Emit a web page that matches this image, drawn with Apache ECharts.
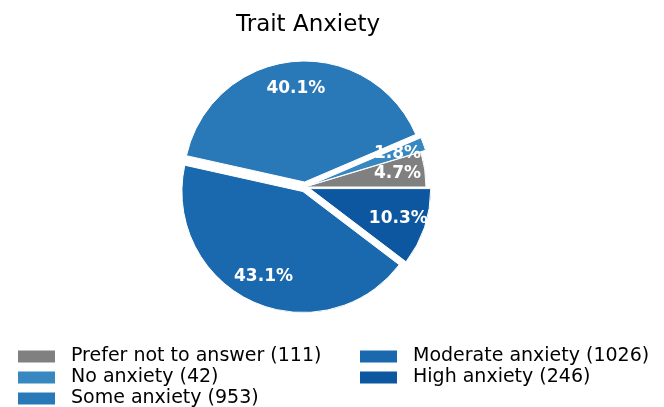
<!DOCTYPE html>
<html>
<head>
<meta charset="utf-8">
<script src="https://cdn.jsdelivr.net/npm/echarts@6/dist/echarts.min.js"></script>
<style>
  html, body { margin: 0; padding: 0; background: #fff; }
  #chart { width: 664px; height: 407px; }
</style>
</head>
<body>
<div id="chart"></div>
<script>
// pie data
const categories = ["Prefer not to answer", "No anxiety", "Some anxiety", "Moderate anxiety", "High anxiety"];
const counts = [111, 42, 953, 1026, 246];
const colors = ["#808080", "#3787c0", "#2978b8", "#1a69ae", "#0d57a1"];
const exploded = [false, true, true, true, true];

const total = counts.reduce((a, b) => a + b, 0);
const names = categories.map((c, i) => c + " (" + counts[i] + ")");

const chart = echarts.init(document.getElementById("chart"));
const font = "DejaVu Sans";

const legendBase = {
  orient: "vertical",
  top: 347,
  height: 80,
  padding: 0,
  itemWidth: 39,
  itemHeight: 14,
  itemGap: 2,
  icon: "rect",
  selectedMode: false,
  textStyle: { fontFamily: font, fontSize: 19, lineHeight: 19, color: "#000", padding: [0, 0, 0, 10] }
};

const pieBase = {
  type: "pie",
  center: [305, 187],
  startAngle: 0,
  clockwise: false,
  selectedMode: "multiple",
  selectedOffset: 5,
  silent: true,
  emphasis: { disabled: true },
  labelLine: { show: false }
};

chart.setOption({
  animation: false,
  title: {
    text: "Trait Anxiety",
    left: 231,
    top: 9,
    textStyle: { fontFamily: font, fontSize: 23, fontWeight: "normal", color: "#000" }
  },
  legend: [
    Object.assign({ data: names.slice(0, 3), left: 16 }, legendBase),
    Object.assign({ data: names.slice(3), left: 358 }, legendBase)
  ],
  series: [
    Object.assign({}, pieBase, {
      radius: [0, 121],
      itemStyle: { borderColor: "#fff", borderWidth: 1 },
      label: { show: false },
      data: names.map((n, i) => ({
        name: n,
        value: counts[i],
        selected: exploded[i],
        itemStyle: { color: colors[i] }
      }))
    }),
    // transparent ring used only to place the percent labels
    Object.assign({}, pieBase, {
      radius: [60, 121],
      itemStyle: { color: "rgba(0,0,0,0)" },
      label: {
        show: true,
        position: "inside",
        fontFamily: font,
        fontSize: 17,
        fontWeight: "bold",
        color: "#fff",
        formatter: p => (p.value / total * 100).toFixed(1) + "%"
      },
      data: names.map((n, i) => ({ name: n, value: counts[i], selected: exploded[i] }))
    })
  ]
});
</script>
</body>
</html>
